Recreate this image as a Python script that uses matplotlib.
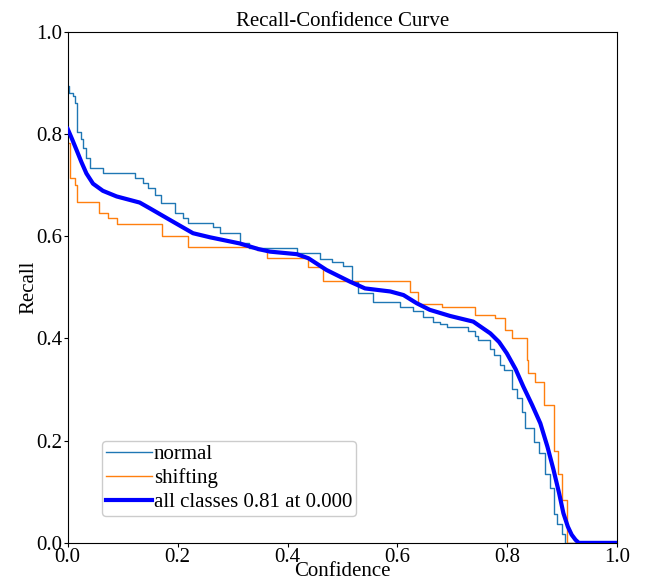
import matplotlib
matplotlib.use("Agg")
import matplotlib.pyplot as plt

plt.rcParams['font.family'] = ['Liberation Serif', 'DejaVu Serif']

# normal class: step knots (confidence, recall)
normal_x = [0.0, 0.003, 0.010, 0.013, 0.017, 0.025, 0.028, 0.033, 0.041, 0.064, 0.122, 0.137,
            0.146, 0.159, 0.170, 0.195, 0.209, 0.219, 0.264, 0.277, 0.313, 0.330, 0.417, 0.459,
            0.480, 0.501, 0.517, 0.528, 0.556, 0.605, 0.628, 0.647, 0.665, 0.678, 0.690, 0.729,
            0.741, 0.747, 0.769, 0.775, 0.787, 0.793, 0.808, 0.817, 0.826, 0.832, 0.848, 0.857,
            0.869, 0.878, 0.884, 0.890, 0.899, 0.905, 0.908, 1.0]
normal_y = [0.895, 0.880, 0.875, 0.860, 0.805, 0.790, 0.773, 0.753, 0.734, 0.723, 0.714, 0.704,
            0.695, 0.680, 0.665, 0.645, 0.636, 0.626, 0.619, 0.607, 0.587, 0.578, 0.568, 0.555,
            0.550, 0.541, 0.511, 0.489, 0.472, 0.462, 0.453, 0.443, 0.433, 0.428, 0.423, 0.414,
            0.404, 0.398, 0.379, 0.367, 0.348, 0.338, 0.302, 0.283, 0.257, 0.225, 0.198, 0.176,
            0.134, 0.108, 0.056, 0.037, 0.017, 0.000, 0.000, 0.000]

# shifting class: step knots
shift_x = [0.0, 0.004, 0.013, 0.016, 0.057, 0.073, 0.090, 0.104, 0.171, 0.219, 0.345, 0.362,
           0.438, 0.465, 0.623, 0.638, 0.681, 0.741, 0.778, 0.796, 0.808, 0.830, 0.835, 0.838,
           0.851, 0.866, 0.878, 0.884, 0.893, 0.899, 0.908, 1.0]
shift_y = [0.782, 0.714, 0.700, 0.668, 0.645, 0.635, 0.624, 0.624, 0.601, 0.579, 0.574, 0.557,
           0.540, 0.513, 0.490, 0.468, 0.462, 0.446, 0.440, 0.417, 0.401, 0.401, 0.358, 0.333,
           0.314, 0.270, 0.270, 0.180, 0.135, 0.083, 0.000, 0.000]

# all classes (smoothed mean)
all_x = [0.0, 0.008, 0.016, 0.025, 0.034, 0.046, 0.064, 0.089, 0.131, 0.149, 0.186, 0.228,
         0.259, 0.313, 0.347, 0.368, 0.417, 0.438, 0.471, 0.514, 0.541, 0.587, 0.611, 0.635,
         0.659, 0.696, 0.738, 0.769, 0.785, 0.799, 0.815, 0.829, 0.845, 0.860, 0.873, 0.884,
         0.894, 0.902, 0.910, 0.917, 0.924, 0.930, 1.0]
all_y = [0.810, 0.790, 0.769, 0.745, 0.723, 0.703, 0.689, 0.678, 0.666, 0.655, 0.632, 0.606,
         0.598, 0.586, 0.575, 0.570, 0.565, 0.557, 0.534, 0.511, 0.498, 0.492, 0.485, 0.469,
         0.456, 0.444, 0.433, 0.410, 0.393, 0.371, 0.340, 0.306, 0.270, 0.234, 0.188, 0.143,
         0.098, 0.058, 0.032, 0.016, 0.006, 0.0, 0.0]

fig = plt.figure(figsize=(6.45, 5.8), dpi=100)
ax = fig.add_axes([0.105, 0.064, 0.852, 0.881])

ax.plot(normal_x, normal_y, drawstyle='steps-post', color='#1f77b4', lw=1, label='normal')
ax.plot(shift_x, shift_y, drawstyle='steps-post', color='#ff7f0e', lw=1, label='shifting')
ax.plot(all_x, all_y, color='blue', lw=3, label='all classes 0.81 at 0.000', zorder=3)

ax.set_xlim(0, 1)
ax.set_ylim(0, 1)
ax.set_xticks([0, 0.2, 0.4, 0.6, 0.8, 1.0])
ax.set_yticks([0, 0.2, 0.4, 0.6, 0.8, 1.0])
ax.tick_params(labelsize=15, length=3, pad=1)
ax.set_xlabel('Confidence', fontsize=15, labelpad=-4)
ax.set_ylabel('Recall', fontsize=15, labelpad=-2)
ax.set_title('Recall-Confidence Curve', fontsize=15, pad=4)

ax.legend(loc='lower left', bbox_to_anchor=(0.062, 0.052), fontsize=15, handlelength=2.2,
          handletextpad=0.1, borderpad=0.2, labelspacing=0.2, borderaxespad=0,
          framealpha=1, fancybox=True)

fig.savefig('out.png', dpi=100)
